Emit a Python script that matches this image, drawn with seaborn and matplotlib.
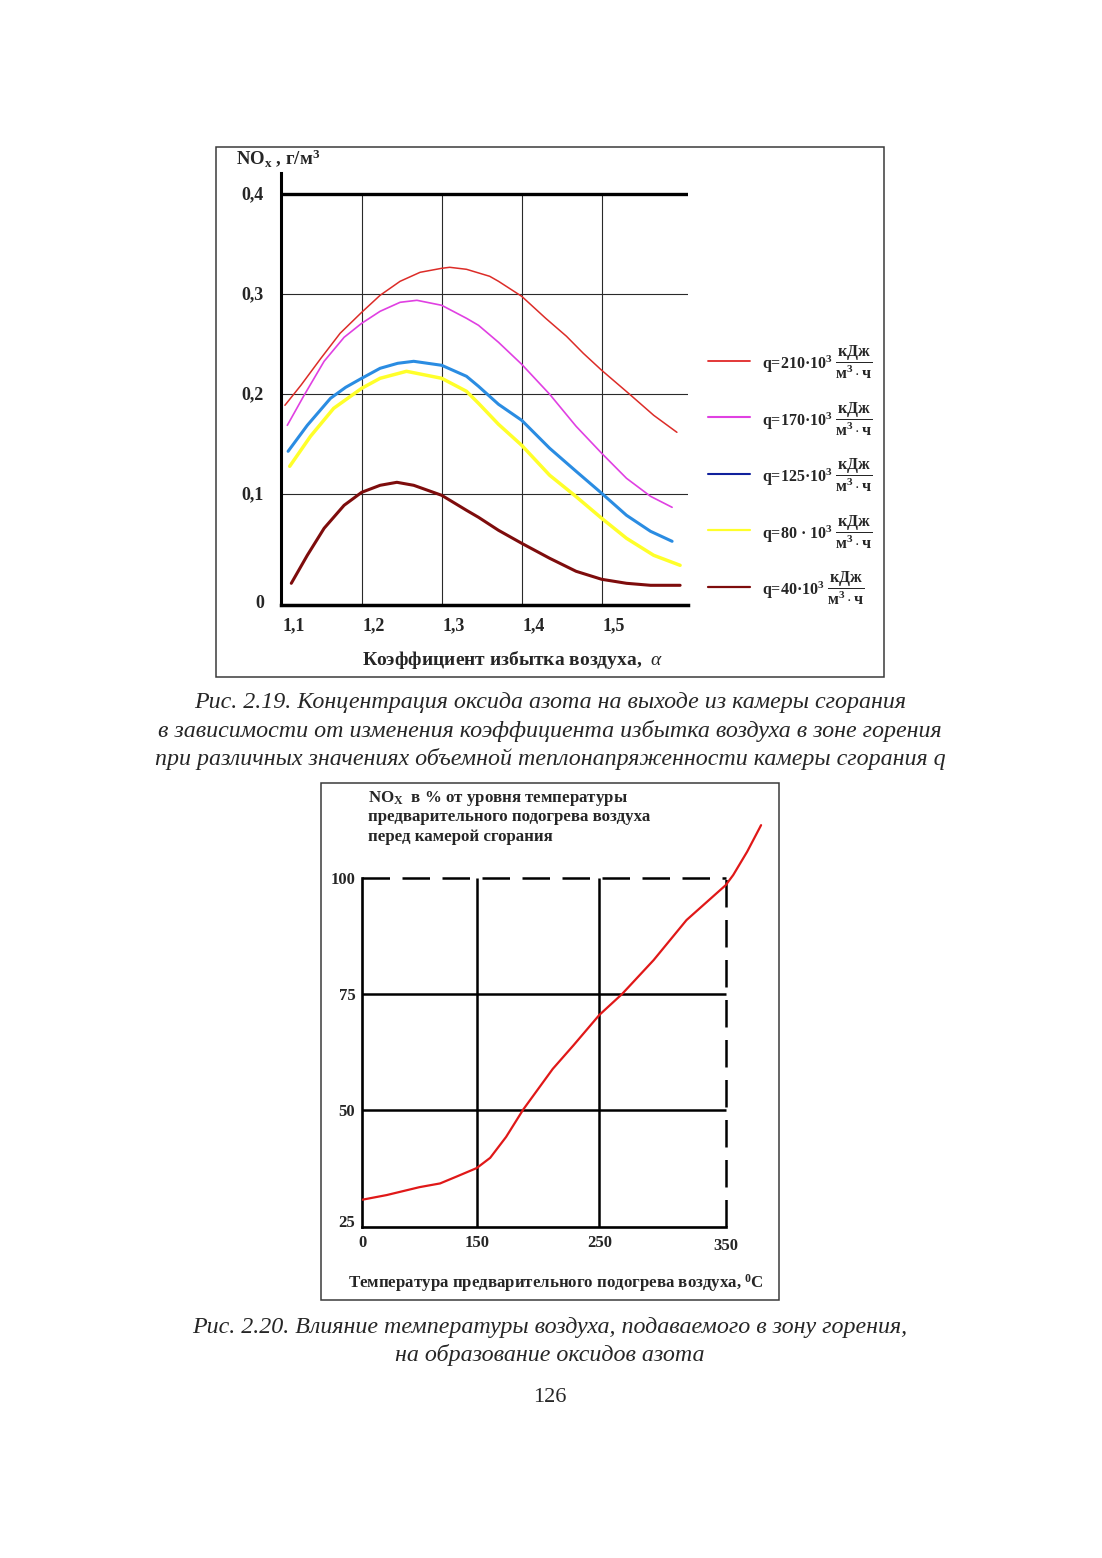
import numpy as np
import pandas as pd
import seaborn as sns
import matplotlib.pyplot as plt
from matplotlib.lines import Line2D
from matplotlib.patches import Rectangle
from matplotlib.transforms import ScaledTranslation

# ---------- Рис. 2.19: NOx от коэффициента избытка воздуха ----------
alpha_210 = [1.104, 1.124, 1.149, 1.173, 1.200, 1.223, 1.248, 1.273, 1.300, 1.310, 1.331,
             1.360, 1.371, 1.400, 1.430, 1.456, 1.477, 1.500, 1.535, 1.565, 1.594]
nox_210 = [0.189, 0.209, 0.236, 0.261, 0.282, 0.299, 0.313, 0.322, 0.326, 0.327, 0.325,
           0.318, 0.313, 0.298, 0.276, 0.258, 0.241, 0.224, 0.200, 0.179, 0.162]

alpha_170 = [1.107, 1.128, 1.153, 1.178, 1.200, 1.223, 1.248, 1.269, 1.300, 1.331, 1.346,
             1.371, 1.400, 1.435, 1.468, 1.500, 1.531, 1.561, 1.588]
nox_170 = [0.169, 0.199, 0.233, 0.257, 0.271, 0.283, 0.292, 0.294, 0.289, 0.276, 0.269,
           0.252, 0.230, 0.200, 0.168, 0.141, 0.116, 0.098, 0.087]

alpha_125 = [1.108, 1.132, 1.161, 1.180, 1.200, 1.223, 1.245, 1.265, 1.300, 1.331, 1.346,
             1.371, 1.400, 1.435, 1.468, 1.500, 1.531, 1.561, 1.588]
nox_125 = [0.143, 0.169, 0.196, 0.207, 0.216, 0.226, 0.231, 0.233, 0.229, 0.218, 0.208,
           0.190, 0.174, 0.146, 0.123, 0.101, 0.079, 0.063, 0.053]

alpha_80 = [1.110, 1.136, 1.165, 1.200, 1.223, 1.256, 1.300, 1.331, 1.346, 1.371, 1.400,
            1.435, 1.466, 1.500, 1.531, 1.565, 1.598]
nox_80 = [0.128, 0.158, 0.186, 0.206, 0.216, 0.223, 0.216, 0.203, 0.191, 0.170, 0.149,
          0.119, 0.099, 0.076, 0.056, 0.039, 0.029]

alpha_40 = [1.112, 1.132, 1.153, 1.178, 1.200, 1.223, 1.244, 1.265, 1.300, 1.331, 1.346,
            1.371, 1.400, 1.435, 1.468, 1.500, 1.531, 1.561, 1.598]
nox_40 = [0.011, 0.039, 0.066, 0.089, 0.102, 0.109, 0.112, 0.109, 0.099, 0.084, 0.077,
          0.064, 0.051, 0.036, 0.023, 0.015, 0.011, 0.009, 0.009]

q_labels = ["q=210·10", "q=170·10", "q=125·10", "q=80 · 10", "q=40·10"]
curve_colors = ["#dc2c28", "#e040e2", "#2a8ce2", "#ffff2a", "#7e0c0c"]
legend_colors = ["#e02828", "#e040e2", "#10209c", "#ffff2a", "#7e0c0c"]
curve_widths = [1.1, 1.2, 2.2, 2.5, 2.2]

x1_ticks = [1.1, 1.2, 1.3, 1.4, 1.5]
x1_labels = ["1,1", "1,2", "1,3", "1,4", "1,5"]
y1_ticks = [0, 0.1, 0.2, 0.3, 0.4]
y1_labels = ["0", "0,1", "0,2", "0,3", "0,4"]

# ---------- Рис. 2.20: NOx от температуры подогрева воздуха ----------
temp = [0, 32, 75, 102, 124, 150, 161, 174, 188, 212, 229, 250, 268, 293, 306, 319,
        350, 356, 367, 378]
nox_pct = [30.8, 31.8, 33.5, 34.3, 35.8, 37.6, 39.8, 44.3, 50.2, 58.9, 64.0, 70.5, 75.0,
           82.3, 86.6, 90.9, 98.4, 100.6, 105.6, 111.3]

t_ticks = [0, 150, 250, 350]
t_cells = [0, 114.4, 237.0, 363.4]   # неравномерная шкала оси температур
p_ticks = [25, 50, 75, 100]

sns.set_style("white")
plt.rcParams['font.family'] = ['Liberation Serif', 'DejaVu Serif']
plt.rcParams['mathtext.fontset'] = 'custom'
plt.rcParams['mathtext.rm'] = 'Liberation Serif:bold'
plt.rcParams['mathtext.bf'] = 'Liberation Serif:bold'
plt.rcParams['mathtext.it'] = 'Liberation Serif:italic'

W, H = 1102, 1558
fig = plt.figure(figsize=(W / 100, H / 100), dpi=100)


def fx(px):
    return px / W


def fy(py):
    return 1 - py / H


def shift(dx, dy):
    return ScaledTranslation(dx / 100, -dy / 100, fig.dpi_scale_trans)


# рамки вокруг рисунков
for (x0, y0, x1, y1) in [(216, 147, 884, 677), (321, 783, 779, 1300)]:
    fig.add_artist(Rectangle((fx(x0), fy(y1)), fx(x1 - x0), (y1 - y0) / H,
                             transform=fig.transFigure, fill=False, lw=1.1, ec="#3a3a3a"))

# ===== верхний график =====
y_lo, y_hi = -0.0107, 0.4216
ax1 = fig.add_axes([fx(280.5), fy(605), fx(407.2), 432.3 / H])
series = [(alpha_210, nox_210), (alpha_170, nox_170), (alpha_125, nox_125),
          (alpha_80, nox_80), (alpha_40, nox_40)]
for (xs, ys), c, lw in zip(series, curve_colors, curve_widths):
    sns.lineplot(x=xs, y=ys, color=c, lw=lw, ax=ax1, sort=False, estimator=None,
                 solid_capstyle='round', solid_joinstyle='round')

ax1.set_xlim(1.0985, 1.6075)
ax1.set_ylim(y_lo, y_hi)
ax1.vlines(x1_ticks[1:], y_lo, 0.4, color="#2a2a2a", lw=0.8, zorder=0)
ax1.hlines(y1_ticks[1:-1], 1.0985, 1.6075, color="#2a2a2a", lw=0.8, zorder=0)
ax1.axhline(0.4, color="black", lw=2.4, zorder=3)
for s in ["top", "right"]:
    ax1.spines[s].set_visible(False)
ax1.spines["left"].set_linewidth(2.2)
ax1.spines["bottom"].set_linewidth(2.5)
ax1.spines["left"].set_color("black")
ax1.spines["bottom"].set_color("black")

ax1.set_xticks(x1_ticks)
ax1.set_xticklabels(x1_labels, fontsize=13, fontweight="bold")
ax1.set_yticks(y1_ticks)
ax1.set_yticklabels(y1_labels, fontsize=13, fontweight="bold")
ax1.tick_params(axis="x", length=0, pad=9)
ax1.tick_params(axis="y", length=4, width=0.8, pad=8, color="#2a2a2a")
for lab in ax1.get_xticklabels():
    lab.set_transform(lab.get_transform() + shift(12, 0))
for lab in ax1.get_yticklabels():
    lab.set_transform(lab.get_transform() + shift(0, -2))
ax1.get_yticklabels()[0].set_transform(ax1.get_yticklabels()[0].get_transform() + shift(0, 9))
ax1.set_xlabel("")
ax1.set_ylabel("")

fig.text(fx(236), fy(158), r"NO$_\mathrm{x}$ , г/м$^\mathrm{3}$", fontsize=13.5,
         fontweight="bold", va="center", ha="left")
fig.text(fx(362), fy(660), r"Коэффициент избытка воздуха,  $\alpha$", fontsize=14,
         fontweight="bold", va="center", ha="left")

# легенда из отдельных строк
for i, (lab, c, lw) in enumerate(zip(q_labels, legend_colors, [1.3, 1.5, 1.5, 1.6, 1.6])):
    yy = 360.7 + i * 56.5
    fig.add_artist(Line2D([fx(708), fx(750)], [fy(yy), fy(yy)], color=c, lw=lw,
                          transform=fig.transFigure))
    fig.text(fx(762), fy(yy + 2), lab + r"$^\mathrm{3}$ $\dfrac{\mathrm{кДж}}{\mathrm{м^3\cdot ч}}$",
             fontsize=11.5, fontweight="bold", va="center", ha="left")

# ===== нижний график =====
ext_t = [-1000] + t_ticks + [1000]
ext_p = [-1000 * t_cells[1] / t_ticks[1]] + t_cells + \
        [t_cells[-1] + 650 * (t_cells[-1] - t_cells[-2]) / (t_ticks[-1] - t_ticks[-2])]


def t_fwd(t):
    return np.interp(t, ext_t, ext_p)


def t_inv(p):
    return np.interp(p, ext_p, ext_t)


ax2 = fig.add_axes([fx(362.3), fy(1226.7), fx(401.3), 407.6 / H])
ax2.set_xscale("function", functions=(t_fwd, t_inv))
sns.lineplot(x=temp, y=nox_pct, color="#e01818", lw=1.6, ax=ax2, sort=False,
             estimator=None, zorder=4)
ax2.set_xlim(0, 380)
ax2.set_ylim(25, 112.6)
ax2.hlines(p_ticks[1:-1], 0, t_ticks[-1], color="black", lw=1.8)
ax2.vlines(t_ticks[1:-1], p_ticks[0], p_ticks[-1], color="black", lw=1.8)
ax2.hlines(p_ticks[-1], 0, t_ticks[-1], color="black", lw=1.8, linestyles=(0, (11, 5)))
ax2.vlines(t_ticks[-1], p_ticks[0], p_ticks[-1], color="black", lw=1.8,
           linestyles=(0, (11, 5)))
for s in ["top", "right"]:
    ax2.spines[s].set_visible(False)
ax2.spines["left"].set_bounds(p_ticks[0], p_ticks[-1])
ax2.spines["bottom"].set_bounds(0, t_ticks[-1])
for s in ["left", "bottom"]:
    ax2.spines[s].set_linewidth(1.9)
    ax2.spines[s].set_color("black")

ax2.set_xticks(t_ticks)
ax2.set_xticklabels([str(t) for t in t_ticks], fontsize=12, fontweight="bold")
ax2.xaxis.set_minor_locator(plt.NullLocator())
ax2.set_yticks(p_ticks)
ax2.set_yticklabels([str(p) for p in p_ticks], fontsize=12, fontweight="bold")
ax2.tick_params(axis="both", length=0)
ax2.tick_params(axis="x", pad=6)
ax2.tick_params(axis="y", pad=5)
lab25 = ax2.get_yticklabels()[0]
lab25.set_transform(lab25.get_transform() + shift(0, -6))
lab350 = ax2.get_xticklabels()[-1]
lab350.set_transform(lab350.get_transform() + shift(0, 3))
ax2.set_xlabel("")
ax2.set_ylabel("")

title_lines = [r"NO$_\mathrm{X}$  в % от уровня температуры",
               "предварительного подогрева воздуха",
               "перед камерой сгорания"]
for i, line in enumerate(title_lines):
    fig.text(fx(368), fy(798 + i * 19.5), line, fontsize=12.2, fontweight="bold",
             va="center", ha="left")
fig.text(fx(348), fy(1283), r"Температура предварительного подогрева воздуха, $^\mathrm{0}$C",
         fontsize=12.2, fontweight="bold", va="center", ha="left")

# ===== подписи =====
captions = [
    (703, "Рис. 2.19. Концентрация оксида азота на выходе из камеры сгорания"),
    (731, "в зависимости от изменения коэффициента избытка воздуха в зоне горения"),
    (759, "при различных значениях объемной теплонапряженности камеры сгорания q"),
    (1327, "Рис. 2.20. Влияние температуры воздуха, подаваемого в зону горения,"),
    (1355, "на образование оксидов азота"),
]
for yy, txt in captions:
    fig.text(fx(550), fy(yy), txt, fontsize=17.3, style="italic", ha="center", va="center")
fig.text(fx(550), fy(1398), "126", fontsize=16, ha="center", va="center")

plt.savefig("out.png", dpi=100)
